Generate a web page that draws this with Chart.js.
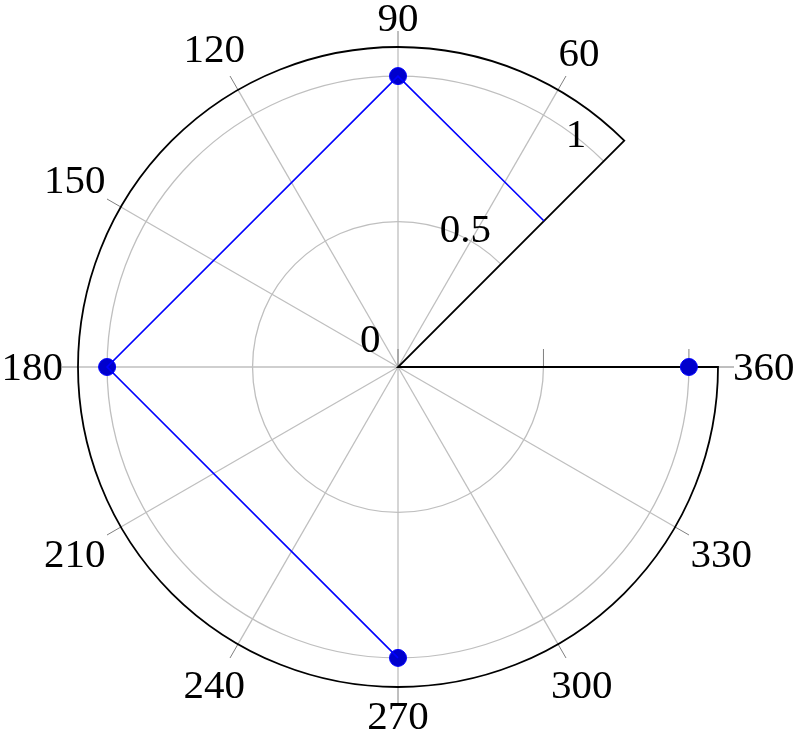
<!DOCTYPE html>
<html>
<head>
<meta charset="utf-8">
<script src="https://cdn.jsdelivr.net/npm/chart.js@4.4.1/dist/chart.umd.min.js"></script>
<style>
  html, body { margin: 0; padding: 0; background: #fff; }
  #wrap { width: 797px; height: 733px; }
</style>
</head>
<body>
<div id="wrap"><canvas id="polar" width="797" height="733"></canvas></div>
<script>
// polar axis range (degrees / radius)
const angleMin = 45;
const angleMax = 360;
const radiusMax = 1.1;

// tick labels
const angleTicks = [60, 90, 120, 150, 180, 210, 240, 270, 300, 330, 360];
const radiusTicks = [0, 0.5, 1];

// blue line (clipped at the 45 degree edge) and its markers
const lineAngles = [45, 90, 180, 270];
const lineRadii = [0.71, 1, 1, 1];
const markAngles = [90, 180, 270, 360];
const markRadii = [1, 1, 1, 1];

const FONT = "41px 'Liberation Serif', 'DejaVu Serif', serif";
const rad = d => d * Math.PI / 180;
const toXY = (angles, radii) => angles.map((a, i) => ({
    x: radii[i] * Math.cos(rad(a)),
    y: radii[i] * Math.sin(rad(a)),
}));

const polarAxis = {
    id: "polarAxis",
    beforeDatasetsDraw(chart) {
        const { ctx, scales: { x, y } } = chart;
        const cx = x.getPixelForValue(0);
        const cy = y.getPixelForValue(0);
        const unit = x.getPixelForValue(1) - cx;
        const R = radiusMax * unit;
        const a0 = -rad(angleMin), a1 = -rad(angleMax);

        ctx.save();
        // grid circles
        ctx.strokeStyle = "#bfbfbf";
        ctx.lineWidth = 1.3;
        radiusTicks.filter(v => v > 0).forEach(v => {
            ctx.beginPath();
            ctx.arc(cx, cy, v * unit, a0, a1, true);
            ctx.stroke();
        });
        // spokes
        angleTicks.forEach(t => {
            ctx.beginPath();
            ctx.moveTo(cx, cy);
            ctx.lineTo(cx + R * Math.cos(rad(t)), cy - R * Math.sin(rad(t)));
            ctx.stroke();
        });
        // outer ticks
        ctx.strokeStyle = "#7f7f7f";
        ctx.lineWidth = 1;
        angleTicks.forEach(t => {
            const c = Math.cos(rad(t)), s = Math.sin(rad(t));
            ctx.beginPath();
            ctx.moveTo(cx + R * c, cy - R * s);
            ctx.lineTo(cx + (R + 16) * c, cy - (R + 16) * s);
            ctx.stroke();
        });
        // radius ticks on the 0 degree edge
        radiusTicks.forEach(v => {
            ctx.beginPath();
            ctx.moveTo(cx + v * unit, cy);
            ctx.lineTo(cx + v * unit, cy - 18);
            ctx.stroke();
        });
        // axis border
        ctx.strokeStyle = "#000";
        ctx.lineWidth = 1.8;
        ctx.beginPath();
        ctx.moveTo(cx + R * Math.cos(rad(angleMin)), cy - R * Math.sin(rad(angleMin)));
        ctx.lineTo(cx, cy);
        ctx.lineTo(cx + R * Math.cos(rad(angleMax)), cy - R * Math.sin(rad(angleMax)));
        ctx.arc(cx, cy, R, a1, a0, false);
        ctx.closePath();
        ctx.stroke();
        ctx.restore();
    },
    afterDraw(chart) {
        const { ctx, scales: { x, y } } = chart;
        const cx = x.getPixelForValue(0);
        const cy = y.getPixelForValue(0);
        const unit = x.getPixelForValue(1) - cx;
        const R = radiusMax * unit;

        ctx.save();
        ctx.font = FONT;
        ctx.fillStyle = "#000";
        ctx.textAlign = "center";
        ctx.textBaseline = "alphabetic";
        const put = (txt, px, py) => {
            const m = ctx.measureText(txt);
            const h = m.actualBoundingBoxAscent - m.actualBoundingBoxDescent;
            ctx.fillText(txt, px, py + h / 2);
        };
        const pad = 13, halfH = 14;

        // angle labels
        angleTicks.forEach(t => {
            const txt = String(t);
            const a = ctx.measureText(txt).width / 2;
            const c = Math.cos(rad(t)), s = Math.sin(rad(t));
            const d = R + 15 - pad + (a + pad) * Math.abs(c) + (halfH + pad) * Math.abs(s);
            put(txt, cx + d * c, cy - d * s);
        });

        // radius labels along the 45 degree edge
        const ec = Math.cos(rad(angleMin)), es = Math.sin(rad(angleMin));
        radiusTicks.forEach(v => {
            const txt = String(v);
            const a = ctx.measureText(txt).width / 2;
            const px = cx + v * unit * ec, py = cy - v * unit * es;
            const d = 22 + Math.SQRT1_2 * (a + halfH);
            put(txt, px - d * Math.SQRT1_2, py - d * Math.SQRT1_2);
        });
        ctx.restore();
    }
};

new Chart(document.getElementById("polar"), {
    type: "scatter",
    data: {
        datasets: [{
            data: toXY(lineAngles, lineRadii),
            showLine: true,
            borderColor: "#0000ff",
            borderWidth: 1.6,
            pointRadius: 0,
            fill: false,
            clip: false,
        }, {
            data: toXY(markAngles, markRadii),
            showLine: false,
            pointRadius: 8.5,
            pointBackgroundColor: "#0000cc",
            pointBorderColor: "#0000ff",
            pointBorderWidth: 1,
            clip: false,
        }]
    },
    options: {
        responsive: false,
        animation: false,
        layout: { padding: { left: 78, right: 79, top: 47, bottom: 46 } },
        plugins: { legend: { display: false }, tooltip: { enabled: false } },
        scales: {
            x: { type: "linear", min: -radiusMax, max: radiusMax, display: false },
            y: { type: "linear", min: -radiusMax, max: radiusMax, display: false }
        }
    },
    plugins: [polarAxis]
});
</script>
</body>
</html>
